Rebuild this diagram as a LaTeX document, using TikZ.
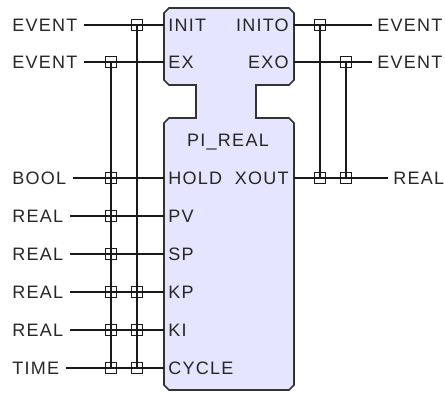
\documentclass[tikz,border=0pt]{standalone}
\usepackage{fontspec}
\setmainfont[LetterSpace=7]{Liberation Sans}
\begin{document}
\begin{tikzpicture}[x=0.75pt,y=-0.75pt,
  lbl/.style={inner sep=0pt,text=black!85,font=\fontsize{13.5pt}{15pt}\selectfont},
  wire/.style={line width=1.3pt,black!90},
  fb/.style={draw=black!80,line width=1.3pt,fill=blue!10!white},
  jn/.style={draw=black!90,line width=1.2pt,minimum size=8.5pt,inner sep=0pt,rectangle}]
\useasboundingbox (0,0) rectangle (445,392);
% function block
\draw[fb] (169,8) -- (289,8) -- (294,13) -- (294,80) -- (289,85) -- (256,85) -- (256,118)
  -- (289,118) -- (294,123) -- (294,385) -- (289,390) -- (169,390) -- (164,385) -- (164,123)
  -- (169,118) -- (196,118) -- (196,85) -- (169,85) -- (164,80) -- (164,13) -- cycle;
\node[lbl] (title) at (228,142) {PI\_REAL};
% pin coordinates
\foreach \n/\y in {INIT/25,EX/62,HOLD/178,PV/216,SP/254,KP/292,KI/330,CYCLE/368}
  \coordinate (p\n) at (164,\y);
\foreach \n/\y in {INITO/25,EXO/62,XOUT/178}
  \coordinate (p\n) at (294,\y);
% pin names
\foreach \n/\y in {INIT/25,EX/62,HOLD/178,PV/216,SP/254,KP/292,KI/330,CYCLE/368}
  \node[lbl,anchor=west] (n\n) at (168,\y) {\n};
\foreach \n/\y in {INITO/25,EXO/62,XOUT/178}
  \node[lbl,anchor=east] (n\n) at (289,\y) {\n};
% external type labels, left
\foreach \n/\t in {INIT/EVENT,EX/EVENT,HOLD/BOOL,PV/REAL,SP/REAL,KP/REAL,KI/REAL,CYCLE/TIME}
  \node[lbl,anchor=west] (t\n) at (12,{0}|-p\n) {\t};
\foreach \n in {INIT,EX,HOLD,PV,SP,KP,KI,CYCLE}
  \draw[wire] ([xshift=5pt]t\n.east) -- (p\n);
% external type labels, right
\node[lbl,anchor=west] (tINITO) at (377,25) {EVENT};
\node[lbl,anchor=west] (tEXO) at (377,62) {EVENT};
\node[lbl,anchor=west] (tXOUT) at (393,178) {REAL};
\foreach \n in {INITO,EXO,XOUT}
  \draw[wire] (p\n) -- ([xshift=-4pt]t\n.west);
% junctions
\node[jn] (jINIT) at (137,25) {};
\node[jn] (jEX) at (111,62) {};
\foreach \n/\y in {HOLD/178,PV/216,SP/254,KP/292,KI/330,CYCLE/368}
  \node[jn] (a\n) at (111,\y) {};
\foreach \n/\y in {KP/292,KI/330,CYCLE/368}
  \node[jn] (b\n) at (137,\y) {};
\node[jn] (jINITO) at (320,25) {};
\node[jn] (jEXO) at (346,62) {};
\node[jn] (c1) at (320,178) {};
\node[jn] (c2) at (346,178) {};
% vertical connections
\draw[wire] (jEX.center) -- (aCYCLE.center);
\draw[wire] (jINIT.center) -- (bCYCLE.center);
\draw[wire] (jINITO.center) -- (c1.center);
\draw[wire] (jEXO.center) -- (c2.center);
\end{tikzpicture}
\end{document}
